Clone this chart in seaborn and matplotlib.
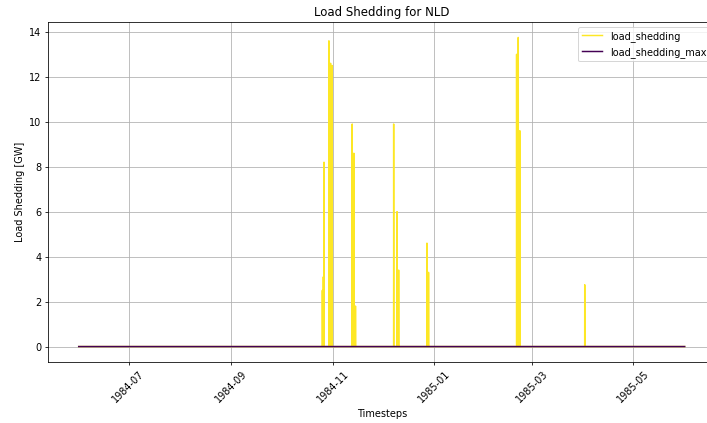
import numpy as np
import pandas as pd
import matplotlib
matplotlib.use("Agg")
import matplotlib.pyplot as plt
import matplotlib.dates as mdates
from matplotlib.ticker import MultipleLocator
import seaborn as sns

# Hourly horizon of the run
period_start = "1984-06-01 00:00"
period_end = "1985-06-01 00:00"

# Hours with non-zero load shedding [GW]
shed_times = [
    "1984-10-25 18:00", "1984-10-26 08:00", "1984-10-26 18:00", "1984-10-26 19:00",
    "1984-10-29 17:00", "1984-10-29 18:00", "1984-10-30 17:00", "1984-10-30 18:00",
    "1984-10-31 17:00",
    "1984-11-12 17:00", "1984-11-12 18:00", "1984-11-13 17:00", "1984-11-13 18:00",
    "1984-11-14 17:00",
    "1984-12-07 17:00", "1984-12-07 18:00",
    "1984-12-09 17:00", "1984-12-09 18:00", "1984-12-10 17:00",
    "1984-12-27 17:00", "1984-12-27 18:00", "1984-12-28 17:00",
    "1985-02-19 18:00", "1985-02-20 17:00", "1985-02-20 18:00", "1985-02-21 17:00",
    "1985-02-21 18:00",
    "1985-04-01 19:00",
]
shed_values = [
    2.5, 3.1, 8.2, 0.4,
    13.6, 10.5, 12.6, 11.0,
    12.5,
    8.8, 9.9, 8.6, 8.5,
    1.8,
    9.9, 1.2,
    1.5, 6.0, 3.4,
    3.2, 4.6, 3.3,
    13.0, 12.0, 13.75, 9.6,
    9.0,
    2.75,
]
shed_max_value = 0.0

series_names = ["load_shedding", "load_shedding_max"]
series_colors = ["#fde725", "#440154"]

# Build the hourly series
index = pd.date_range(period_start, period_end, freq="h")
load_shedding = pd.Series(0.0, index=index)
load_shedding.loc[pd.to_datetime(shed_times)] = shed_values
load_shedding_max = pd.Series(shed_max_value, index=index)

frame = pd.DataFrame({series_names[0]: load_shedding,
                      series_names[1]: load_shedding_max})
frame.index.name = "Timesteps"
long = frame.reset_index().melt(id_vars="Timesteps", var_name="series",
                                value_name="value")

plt.rcParams.update({
    "font.family": ["DejaVu Sans"],
    "font.size": 10,
    "axes.grid": True,
    "grid.color": "#b0b0b0",
    "grid.linewidth": 0.8,
})

dpi = 70.7
fig = plt.figure(figsize=(707 / dpi, 423 / dpi), dpi=dpi)
ax = fig.add_axes([48.4 / 707, 61 / 423, (715 - 48.4) / 707, 340 / 423])

sns.lineplot(data=long, x="Timesteps", y="value", hue="series",
             hue_order=series_names,
             palette=dict(zip(series_names, series_colors)),
             estimator=None, linewidth=1.5, ax=ax)

ax.set_title("Load Shedding for NLD", fontsize=12)
ax.set_xlabel("Timesteps")
ax.set_ylabel("Load Shedding [GW]")
ax.xaxis.set_major_locator(mdates.MonthLocator(bymonth=[1, 3, 5, 7, 9, 11]))
ax.xaxis.set_major_formatter(mdates.DateFormatter("%Y-%m"))
ax.yaxis.set_major_locator(MultipleLocator(2))
for lbl in ax.get_xticklabels():
    lbl.set_rotation(45)
ax.grid(True)
ax.legend(loc="upper right")

fig.savefig("out.png", dpi=dpi)
